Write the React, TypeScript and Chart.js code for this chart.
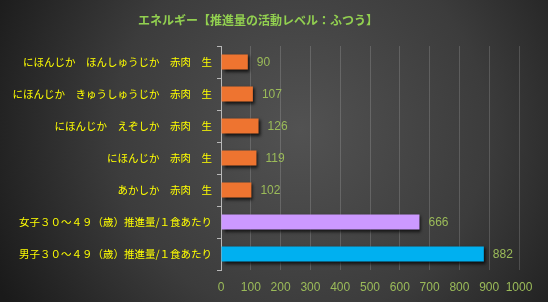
import React, { useEffect, useRef } from "react";
import { Chart, registerables } from "chart.js";

Chart.register(...registerables);

const TITLE = "エネルギー【推進量の活動レベル：ふつう】";
const categories = [
  "にほんじか　ほんしゅうじか　赤肉　生",
  "にほんじか　きゅうしゅうじか　赤肉　生",
  "にほんじか　えぞしか　赤肉　生",
  "にほんじか　赤肉　生",
  "あかしか　赤肉　生",
  "女子３０～４９（歳）推進量/１食あたり",
  "男子３０～４９（歳）推進量/１食あたり",
];
const values = [90, 107, 126, 119, 102, 666, 882];
const barColors = ["#EE7430", "#EE7430", "#EE7430", "#EE7430", "#EE7430", "#CC99FF", "#00B0F0"];
const xTicks = [0, 100, 200, 300, 400, 500, 600, 700, 800, 900, 1000];

const JP = "'Noto Sans CJK JP', 'Noto Sans', sans-serif";
const NUM = "'Liberation Sans', 'DejaVu Sans', sans-serif";

const bgPlugin = {
  id: "bg",
  beforeDraw(chart: any) {
    const { ctx, width, height } = chart;
    ctx.save();
    const g = ctx.createRadialGradient(300, 130, 0, 300, 130, 340);
    g.addColorStop(0, "#525252");
    g.addColorStop(0.55, "#3c3c3c");
    g.addColorStop(1, "#1a1a1a");
    ctx.fillStyle = g;
    ctx.fillRect(0, 0, width, height);
    ctx.font = `bold 12px ${JP}`;
    ctx.fillStyle = "#92D050";
    ctx.textAlign = "center";
    ctx.textBaseline = "middle";
    ctx.fillText(TITLE, 258, 20);
    ctx.restore();
  },
  beforeDatasetDraw(chart: any) {
    const ctx = chart.ctx;
    ctx.save();
    ctx.shadowColor = "rgba(0,0,0,0.75)";
    ctx.shadowBlur = 3;
    ctx.shadowOffsetX = 2;
    ctx.shadowOffsetY = 2;
  },
  afterDatasetDraw(chart: any) {
    chart.ctx.restore();
  },
  afterDatasetsDraw(chart: any) {
    const { ctx } = chart;
    const meta = chart.getDatasetMeta(0);
    ctx.save();
    ctx.font = `12px ${NUM}`;
    ctx.fillStyle = "#9BBB59";
    ctx.textAlign = "left";
    ctx.textBaseline = "middle";
    meta.data.forEach((bar: any, i: number) => {
      ctx.fillText(String(values[i]), bar.x + 9, bar.y + 1);
    });
    ctx.restore();
  },
};

export default function App() {
  const ref = useRef<HTMLCanvasElement>(null);
  useEffect(() => {
    document.body.style.margin = "0";
    const chart = new Chart(ref.current!, {
      type: "bar",
      data: {
        labels: categories,
        datasets: [
          {
            data: values,
            backgroundColor: (c: any) => {
              const i = c.dataIndex;
              if (i < 5 && c.element && c.element.y !== undefined) {
                const y = c.element.y;
                const g = c.chart.ctx.createLinearGradient(0, y - 8, 0, y + 8);
                g.addColorStop(0, "#F58B4A");
                g.addColorStop(1, "#E2620F");
                return g;
              }
              return barColors[i];
            },
            borderWidth: 0,
            barPercentage: 0.94,
            categoryPercentage: 0.5,
          },
        ],
      },
      options: {
        indexAxis: "y",
        responsive: false,
        animation: false,
        layout: { padding: { top: 46, right: 29, left: 0, bottom: 0 } },
        plugins: { legend: { display: false }, tooltip: { enabled: false }, title: { display: false } },
        scales: {
          x: {
            min: 0,
            max: 1000,
            afterFit: (s: any) => {
              s.height = 32;
            },
            afterBuildTicks: (s: any) => {
              s.ticks = xTicks.map((v) => ({ value: v }));
            },
            grid: {
              color: "rgba(255,255,255,0.16)",
              drawTicks: false,
            },
            border: { display: false },
            ticks: {
              color: "#9BBB59",
              font: { family: NUM, size: 12 },
              padding: 10,
              maxRotation: 0,
              minRotation: 0,
              autoSkip: false,
              callback: (v: any) => String(v),
            },
          },
          y: {
            afterFit: (s: any) => {
              s.width = 221;
            },
            grid: {
              offset: true,
              drawOnChartArea: false,
              drawTicks: true,
              tickLength: 4,
              color: "#B8B8B8",
            },
            border: { display: true, color: "#B8B8B8", width: 1 },
            ticks: {
              color: "#FFFF00",
              font: { family: JP, size: 10.5 },
              padding: 5,
              autoSkip: false,
            },
          },
        },
      },
      plugins: [bgPlugin],
    } as any);
    return () => chart.destroy();
  }, []);
  return <canvas ref={ref} width={548} height={302} style={{ display: "block" }} />;
}
